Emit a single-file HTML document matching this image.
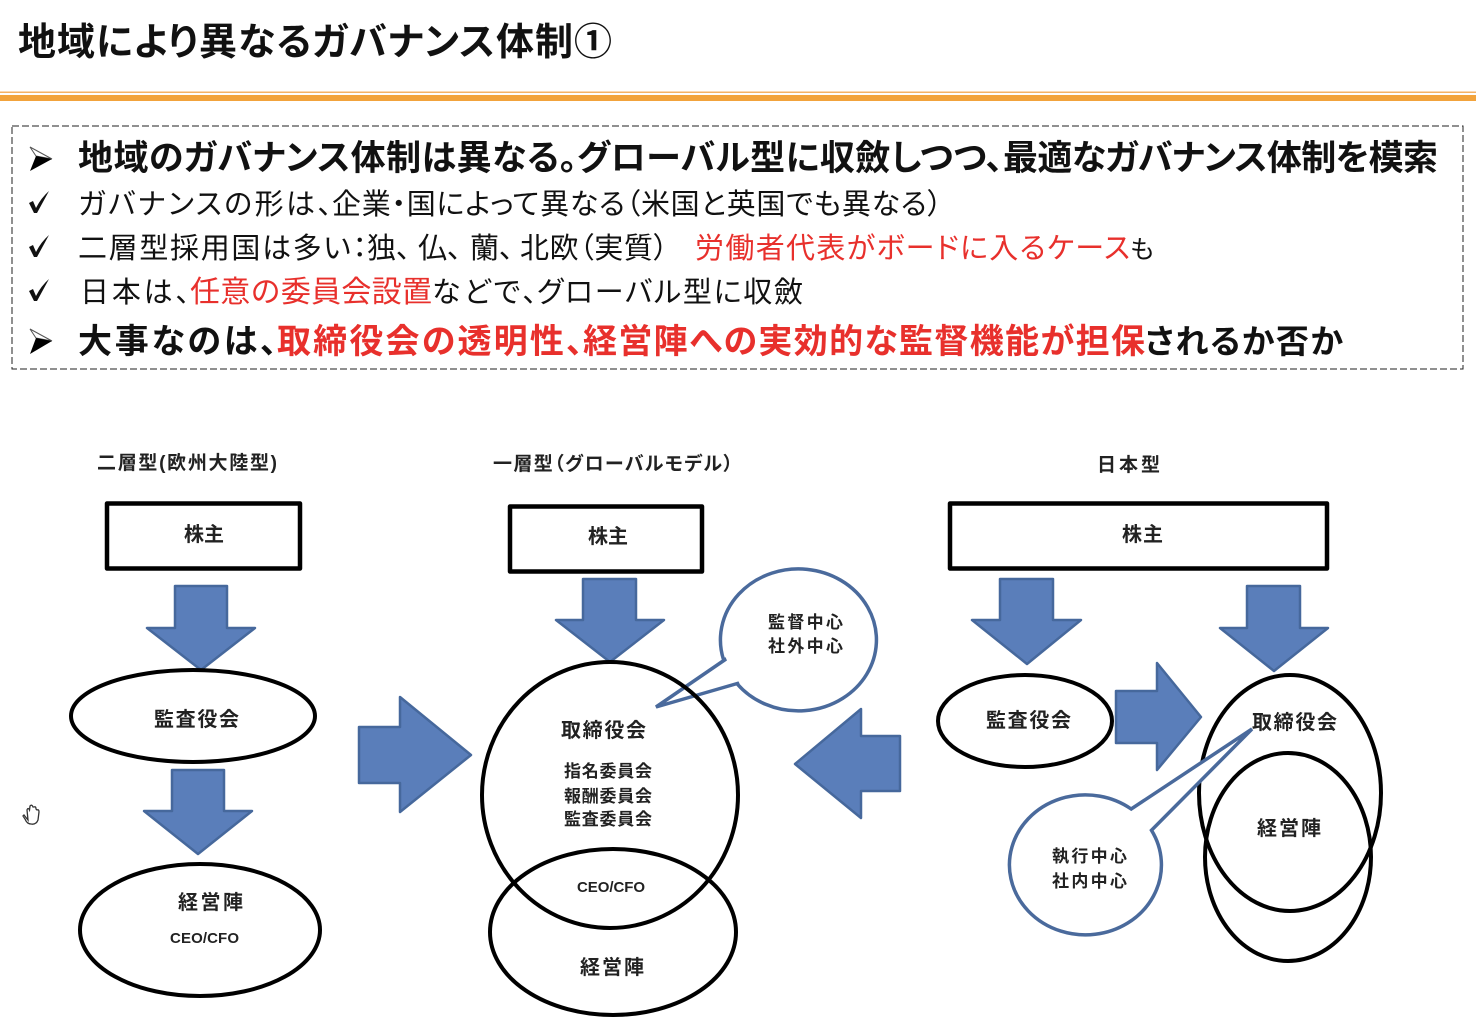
<!DOCTYPE html>
<html lang="ja"><head><meta charset="utf-8"><title>地域により異なるガバナンス体制①</title>
<style>
html,body{margin:0;padding:0;background:#fff;width:1476px;height:1026px;overflow:hidden}
svg{display:block}
text{font-family:"Liberation Sans","Noto Sans CJK JP",sans-serif;fill:#111}
.p{font-feature-settings:"palt" 1}
.b{font-weight:700}
.r{fill:#e8302c}
.m{font-weight:700;font-size:20px;fill:#222}
.s{fill:#fff;stroke:#000;stroke-width:4}
.t{fill:#fff;stroke:#000;stroke-width:4.500;stroke-linejoin:round}
.a{fill:#5a7eba;stroke:#46689c;stroke-width:2.5;stroke-linejoin:round}
.c{fill:#fff;stroke:#4a6a9c;stroke-width:3.500}
</style></head><body>
<svg width="1476" height="1026" viewBox="0 0 1476 1026" xmlns="http://www.w3.org/2000/svg">
<rect width="1476" height="1026" fill="#fff"/>
<text x="18" y="55" font-size="38" class="b p" textLength="594">地域により異なるガバナンス体制①</text>
<rect x="0" y="91.500" width="1476" height="1.500" fill="#f4b266"/>
<rect x="0" y="95" width="1476" height="6" fill="#f2a33c"/>
<rect x="12" y="126" width="1451" height="243" fill="none" stroke="#222" stroke-width="1" stroke-dasharray="7 3"/>

<path d="M30 147 L52 159 L36 156Z" fill="#fff" stroke="#555" stroke-width="1"/>
<path d="M30 171 L52 159 L36 156Z" fill="#000"/>
<text x="78" y="170" font-size="35" class="b p" textLength="499">地域のガバナンス体制は異なる。</text>
<text x="577" y="170" font-size="35" class="b p" textLength="426">グローバル型に収斂しつつ、</text>
<text x="1003" y="170" font-size="35" class="b p" textLength="435">最適なガバナンス体制を模索</text>

<path d="M29 203 L33 201 L36 208 Q41 198 49 191 L37 213 L34 213Z" fill="#111"/>
<text x="78" y="214" font-size="29" class="p" textLength="254">ガバナンスの形は、</text>
<text x="332" y="214" font-size="29" class="p" textLength="610">企業・国によって異なる（米国と英国でも異なる）</text>

<path d="M29 247 L33 245 L36 252 Q41 242 49 235 L37 257 L34 257Z" fill="#111"/>
<text x="78" y="258" font-size="29" class="p" textLength="289">二層型採用国は多い：</text>
<text x="367" y="258" font-size="29" class="p">独、</text>
<text x="418" y="258" font-size="29" class="p">仏、</text>
<text x="470" y="258" font-size="29" class="p">蘭、</text>
<text x="520" y="258" font-size="29" class="p" textLength="148">北欧（実質）</text>
<text x="695" y="258" font-size="29" class="r p" textLength="435">労働者代表がボードに入るケース</text>
<text x="1130" y="258" font-size="25" textLength="25">も</text>

<path d="M29 291 L33 289 L36 296 Q41 286 49 279 L37 301 L34 301Z" fill="#111"/>
<text x="80" y="302" font-size="29" class="p" textLength="110">日本は、</text>
<text x="190" y="302" font-size="30" class="r" textLength="242">任意の委員会設置</text>
<text x="432" y="302" font-size="29" class="p" textLength="105">などで、</text>
<text x="537" y="302" font-size="29" class="p" textLength="266">グローバル型に収斂</text>

<path d="M30 329 L52 341 L36 338Z" fill="#fff" stroke="#555" stroke-width="1"/>
<path d="M30 354 L52 341 L36 338Z" fill="#000"/>
<text x="78" y="353" font-size="34" class="b p" textLength="199">大事なのは、</text>
<text x="277" y="353" font-size="34" class="b r p" textLength="306">取締役会の透明性、</text>
<text x="583" y="353" font-size="34" class="b r p" textLength="562">経営陣への実効的な監督機能が担保</text>
<text x="1145" y="353" font-size="33" class="b p" textLength="198">されるか否か</text>

<text x="97" y="469" class="m p" style="font-size:19px" textLength="180">二層型(欧州大陸型)</text>
<text x="493" y="470" class="m p" style="font-size:19px" textLength="240">一層型（グローバルモデル）</text>
<text x="1097" y="471" class="m" style="font-size:19px" textLength="63">日本型</text>

<rect x="107" y="503.500" width="193" height="65" class="t"/>
<rect x="510" y="506.500" width="192" height="65" class="t"/>
<rect x="950" y="503.500" width="377" height="65" class="t"/>

<path class="a" d="M175 586H227V628H255L201 670L147 628H175Z"/>
<path class="a" d="M172 770H224V811H252L198 854L144 811H172Z"/>
<path class="a" d="M583 579H636V620H664L610 662L556 620H583Z"/>
<path class="a" d="M1000 579H1053V620H1081L1027 664L972 620H1000Z"/>
<path class="a" d="M1247 586H1300V628H1328L1274 671L1220 628H1247Z"/>
<path class="a" d="M359 727H400V697L471 755L400 812V783H359Z"/>
<path class="a" d="M900 736H861V709L795 764L861 818V791H900Z"/>
<path class="a" d="M1116 691H1157V663L1201 717L1157 770V743H1116Z"/>

<path class="c" d="M739 683 L737.400 684.100 A78 71 0 1 0 723.500 659.600 L726 659 L656 707 Z"/>

<ellipse cx="193" cy="716" rx="122" ry="46" class="s"/>
<ellipse cx="200" cy="930" rx="120" ry="66" class="s"/>
<ellipse cx="613" cy="932" rx="123" ry="83" fill="none" stroke="#000" stroke-width="4"/>
<ellipse cx="610" cy="795" rx="128" ry="133" fill="none" stroke="#000" stroke-width="4"/>
<ellipse cx="1025" cy="721" rx="87" ry="46" class="s"/>
<ellipse cx="1288" cy="857" rx="83" ry="104" fill="none" stroke="#000" stroke-width="4"/>
<ellipse cx="1290" cy="793" rx="91" ry="118" fill="none" stroke="#000" stroke-width="4"/>

<path class="c" d="M1131.200 809 A76 70 0 1 0 1151.500 830.300 L1252 729 Z"/>

<text x="184" y="541" class="m" textLength="40">株主</text>
<text x="588" y="543" class="m" textLength="40">株主</text>
<text x="1122" y="541" class="m" textLength="41">株主</text>
<text x="154" y="726" class="m" textLength="85">監査役会</text>
<text x="178" y="909" class="m" textLength="65">経営陣</text>
<text x="170" y="943" class="m" style="font-size:15px" textLength="69">CEO/CFO</text>
<text x="561" y="737" class="m" textLength="85">取締役会</text>
<text x="564" y="777" class="m" style="font-size:17px" textLength="88">指名委員会</text>
<text x="564" y="802" class="m" style="font-size:17px" textLength="88">報酬委員会</text>
<text x="564" y="825" class="m" style="font-size:17px" textLength="88">監査委員会</text>
<text x="577" y="892" class="m" style="font-size:15px" textLength="68">CEO/CFO</text>
<text x="580" y="974" class="m" textLength="64">経営陣</text>
<text x="768" y="628" class="m" style="font-size:17px" textLength="75">監督中心</text>
<text x="768" y="652" class="m" style="font-size:17px" textLength="75">社外中心</text>
<text x="986" y="727" class="m" textLength="85">監査役会</text>
<text x="1252" y="729" class="m" textLength="85">取締役会</text>
<text x="1257" y="835" class="m" textLength="64">経営陣</text>
<text x="1052" y="862" class="m" style="font-size:17px" textLength="75">執行中心</text>
<text x="1052" y="887" class="m" style="font-size:17px" textLength="75">社内中心</text>

<path d="M24 815 L28 820 L27 810 Q28 807 29.500 810 L30 806 Q32 804 33 807 L34 807 Q36 806 36 809 L37 810 Q39 809 39 812 L38 820 Q36 825 31 824 Q27 824 25 819 L23 816 Z" fill="#fff" stroke="#333" stroke-width="1.300"/>
</svg>
</body></html>
